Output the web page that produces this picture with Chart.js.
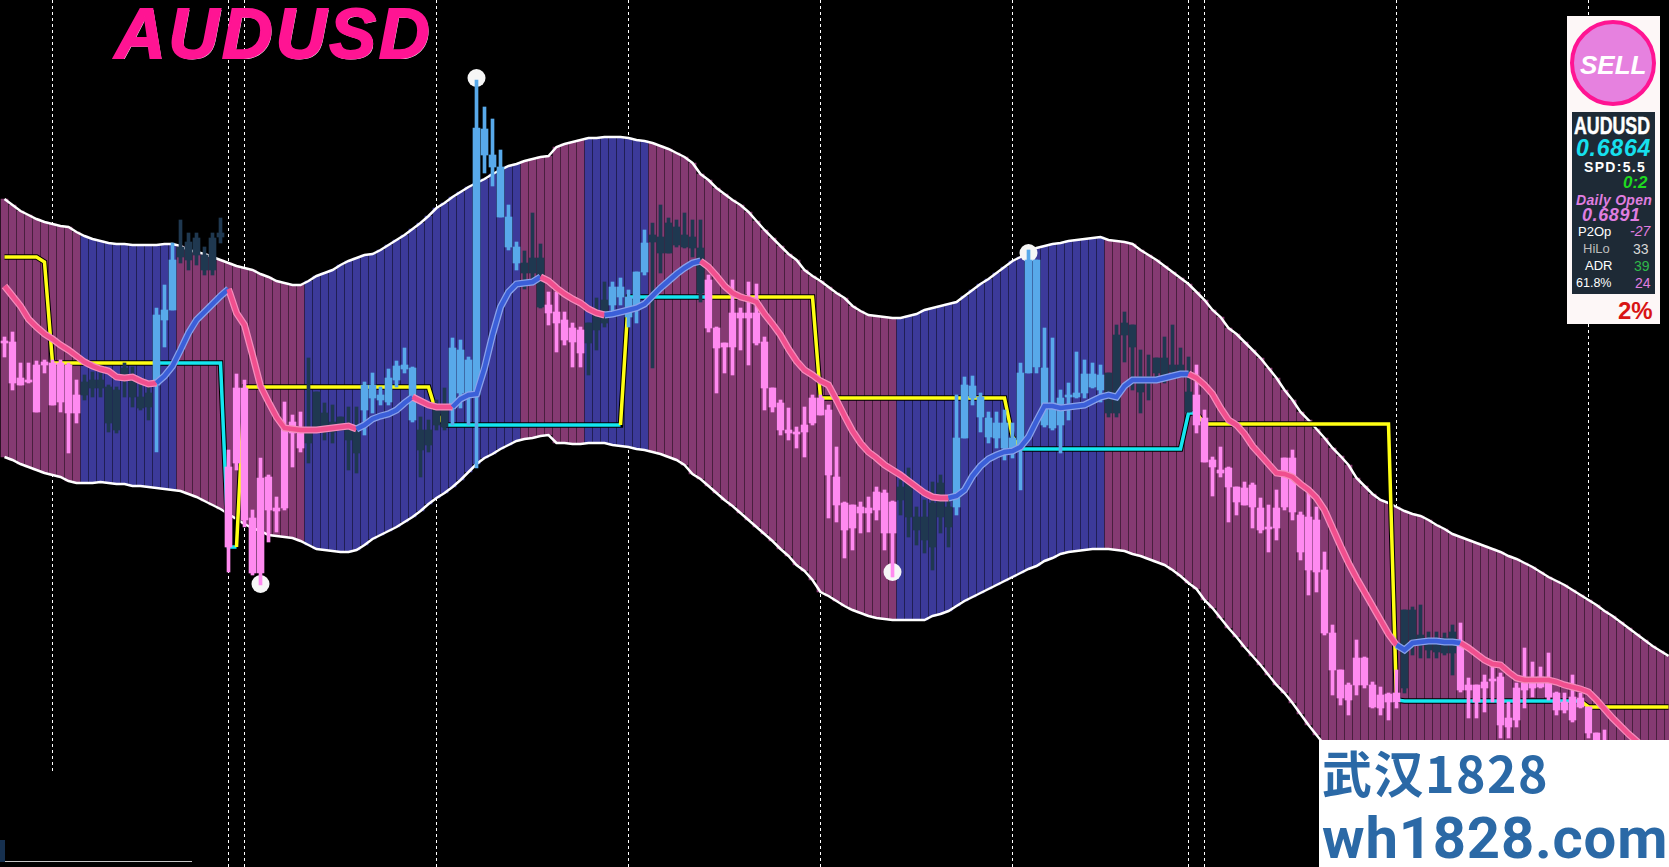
<!DOCTYPE html>
<html>
<head>
<meta charset="utf-8">
<title>AUDUSD</title>
<script src="https://cdn.jsdelivr.net/npm/chart.js@4"></script>
<style>
  html, body { margin: 0; background: #000; overflow: hidden; }
  #wrap { position: relative; width: 1669px; height: 867px; }
  canvas { position: absolute; left: 0; top: 0; }
  .t { position: absolute; white-space: nowrap; font-family: "Liberation Sans", sans-serif; line-height: 1; }
  .box { position: absolute; }
</style>
</head>
<body>
<div id="wrap">
  <canvas id="myChart" width="1669" height="867"></canvas>

  <div class="t" style="left:115px;top:-1px;font-size:70px;font-weight:bold;font-style:italic;color:#ff1493;letter-spacing:3px;-webkit-text-stroke:2px #ff1493;text-shadow:1px 1px 0 #fff;">AUDUSD</div>

  <div class="box" style="left:0;top:840px;width:5px;height:22px;background:#16304f;"></div>
  <div class="box" style="left:5px;top:861px;width:187px;height:1px;background:#c4c4c4;"></div>

  <div class="box" style="left:1567px;top:16px;width:93px;height:308px;background:#fdf7f7;"></div>
  <div class="box" style="left:1570px;top:20px;width:86px;height:86px;box-sizing:border-box;border-radius:50%;background:#e681df;border:4px solid #ff1493;"></div>
  <div class="t" style="left:1580px;top:52px;font-size:26px;font-weight:bold;font-style:italic;color:#fff;">SELL</div>
  <div class="box" style="left:1572px;top:112px;width:83px;height:182px;background:#1e2a36;"></div>
  <div class="t" style="left:1574px;top:114px;font-size:24px;font-weight:bold;color:#fff;-webkit-text-stroke:.5px #fff;transform:scaleX(.74);transform-origin:0 0;">AUDUSD</div>
  <div class="t" style="left:1576px;top:137px;font-size:23px;font-weight:bold;font-style:italic;color:#16e0ee;letter-spacing:.8px;">0.6864</div>
  <div class="t" style="left:1584px;top:160px;font-size:14px;font-weight:bold;color:#fff;letter-spacing:1.3px;">SPD:5.5</div>
  <div class="t" style="left:1623px;top:174px;font-size:17px;font-weight:bold;font-style:italic;color:#1fd91f;">0:2</div>
  <div class="t" style="left:1576px;top:193px;font-size:14px;font-weight:bold;font-style:italic;color:#e07ee0;letter-spacing:.3px;">Daily Open</div>
  <div class="t" style="left:1582px;top:206px;font-size:18px;font-weight:bold;font-style:italic;color:#e07ee0;letter-spacing:.6px;">0.6891</div>
  <div class="t" style="left:1578px;top:225px;font-size:13px;color:#fff;">P2Op</div>
  <div class="t" style="left:1630px;top:224px;font-size:14px;font-style:italic;color:#e07ee0;">-27</div>
  <div class="t" style="left:1583px;top:242px;font-size:13px;color:#bdbdbd;">HiLo</div>
  <div class="t" style="left:1633px;top:242px;font-size:14px;color:#d8d8d8;">33</div>
  <div class="t" style="left:1585px;top:259px;font-size:13px;color:#fff;">ADR</div>
  <div class="t" style="left:1634px;top:259px;font-size:14px;color:#2fb84a;">39</div>
  <div class="t" style="left:1576px;top:277px;font-size:12.5px;color:#fff;">61.8%</div>
  <div class="t" style="left:1635px;top:276px;font-size:14px;color:#e07ee0;">24</div>
  <div class="t" style="left:1618px;top:299px;font-size:24px;font-weight:bold;color:#d81414;">2%</div>

  <div class="box" style="left:1319px;top:740px;width:350px;height:127px;background:#fff;"></div>
  <div class="t" style="left:1322px;top:746px;font-size:50px;font-weight:bold;color:#2b69a6;font-family:'Noto Sans CJK SC',sans-serif;letter-spacing:1.5px;">武汉1828</div>
  <div class="t" style="left:1322px;top:809px;font-size:58px;font-weight:bold;color:#2b69a6;font-family:Roboto,sans-serif;letter-spacing:.8px;">wh1828.com</div>
</div>

<script>
// one column of the band per bar, 8px apart on the picture
const barCount = 209;

const upperBand = [
  199,205,211,215,219,222,224,226,227,232,
  236,239,241,243,244,244,245,245,245,245,
  244,244,246,250,252,254,257,260,263,266,
  268,270,274,277,281,283,285,285,281,276,
  273,270,265,261,258,255,254,250,245,240,
  235,229,223,216,208,203,197,192,187,183,
  179,174,170,166,164,161,159,157,156,147,
  144,142,140,138,138,137,137,137,138,140,
  141,143,146,149,153,157,163,174,180,188,
  194,200,205,212,221,230,238,246,254,260,
  270,276,281,287,293,298,306,311,315,316,
  317,318,318,316,314,310,308,306,304,302,
  296,290,284,279,273,267,261,257,252,248,
  246,244,243,241,240,239,238,237,240,241,
  242,244,250,255,260,266,272,278,284,292,
  300,310,317,328,334,342,350,358,368,378,
  390,400,412,420,429,438,448,456,465,478,
  486,494,500,503,507,511,514,516,520,525,
  529,534,537,540,543,546,549,552,556,559,
  563,567,572,577,581,585,590,595,600,605,
  611,616,622,628,634,640,646,651,656
];

const lowerBand = [
  457,460,464,467,470,473,475,477,481,483,
  483,483,482,483,484,484,486,486,487,488,
  489,490,491,494,497,501,505,509,514,519,
  524,528,531,535,536,537,538,541,545,549,
  550,551,552,552,550,545,539,535,531,527,
  522,517,511,504,498,493,487,480,472,464,
  458,454,449,445,441,439,438,436,435,443,
  443,444,444,443,443,443,445,446,447,449,
  450,452,454,457,460,465,474,479,486,493,
  500,506,513,520,527,534,541,549,556,565,
  571,580,592,596,601,606,610,613,616,618,
  619,620,620,620,620,620,616,614,611,606,
  601,597,593,589,585,581,577,573,569,566,
  561,558,554,552,551,550,549,549,549,550,
  551,554,556,559,562,565,570,576,583,589,
  600,608,618,628,637,647,656,665,675,685,
  693,703,714,725,735,745,755,765,775,785,
  795,805,815,825,835,845,855,865,867,867,
  867,867,867,867,867,867,867,867,867,867,
  867,867,867,867,867,867,867,867,867,867,
  867,867,867,867,867,867,867,867,867
];

// r = purple stretch, b = blue stretch, as [length, kind]
const bandRuns = [[10,'r'],[12,'b'],[16,'r'],[27,'b'],[8,'r'],[8,'b'],[31,'r'],[26,'b'],[71,'r']];

const candleHigh = [
  337,332,363,363,361,360,360,360,363,380,
  375,372,373,385,387,363,367,383,387,308,
  285,243,220,233,233,247,233,218,450,374,
  380,510,458,475,497,402,415,412,358,392,
  403,405,417,407,407,382,373,387,369,361,
  348,367,417,420,400,388,338,340,357,80,
  107,119,150,205,242,251,213,244,292,292,
  312,323,327,323,298,282,282,278,290,272,
  230,223,205,218,220,213,220,220,275,327,
  343,280,308,282,284,337,388,400,408,427,
  407,395,395,405,447,502,505,502,497,487,
  490,501,480,468,507,500,482,475,500,395,
  377,376,393,412,412,410,423,363,250,260,
  328,338,390,383,352,360,363,365,373,325,
  312,325,350,355,358,337,325,348,357,365,
  410,457,447,467,487,482,483,498,505,490,
  458,450,512,493,507,552,625,670,683,640,
  657,682,687,693,670,610,607,605,632,632,
  633,625,623,678,685,675,665,673,702,683,
  648,662,667,653,692,693,675,693,707,733,
  730
];

const candleLow = [
  357,390,385,383,412,373,405,412,453,423,
  400,397,397,432,433,397,407,410,420,452,
  347,310,263,270,265,275,275,243,572,470,
  527,575,585,542,532,510,467,452,463,430,
  440,443,430,470,473,435,413,405,405,387,
  373,422,477,452,430,430,425,408,425,468,
  173,186,217,250,270,289,283,308,325,352,
  345,367,367,375,350,327,312,305,327,323,
  275,368,273,253,247,248,257,302,332,393,
  373,375,350,365,345,410,412,435,440,448,
  457,425,415,518,522,558,550,533,532,520,
  550,577,515,537,545,553,570,533,547,515,
  438,405,432,443,448,460,458,490,373,373,
  427,430,453,420,398,398,388,402,417,417,
  362,390,413,400,377,383,375,373,412,433,
  462,496,477,522,515,505,528,533,552,540,
  510,520,560,595,592,635,695,705,715,695,
  688,708,715,720,708,693,655,658,658,658,
  655,675,692,718,718,712,702,738,738,727,
  708,697,688,700,715,713,722,708,738,750,
  750
];

const bodyTop = [
  341,342,378,380,365,362,363,363,365,395,
  382,380,380,387,390,368,377,397,393,315,
  310,260,247,242,238,255,238,233,467,388,
  388,518,478,477,508,428,422,432,430,392,
  413,422,417,425,428,385,385,395,378,366,
  365,368,430,430,410,407,348,350,360,128,
  129,155,167,217,247,263,258,258,305,312,
  320,328,330,323,313,300,287,287,297,272,
  243,235,237,223,227,235,237,248,280,328,
  343,313,313,313,313,342,388,403,430,432,
  425,398,398,410,477,503,505,507,508,492,
  493,502,487,483,517,517,503,483,507,438,
  385,386,397,418,423,423,438,373,260,260,
  368,403,398,395,393,374,374,375,373,335,
  323,325,377,377,358,358,365,365,392,395,
  418,460,470,468,487,488,485,508,527,508,
  458,458,515,517,520,570,633,670,685,658,
  658,685,695,694,693,610,610,635,643,643,
  638,632,642,685,685,682,679,677,718,688,
  683,683,677,680,693,702,697,698,707,733,
  745
];

const bodyBottom = [
  343,383,385,382,412,365,405,402,413,413,
  395,388,388,423,430,375,397,408,407,385,
  320,310,257,260,255,270,270,237,547,463,
  520,573,573,510,511,508,433,448,443,428,
  432,432,430,440,453,410,398,400,402,380,
  369,420,450,445,425,427,407,393,393,395,
  155,167,217,247,263,273,273,307,313,323,
  340,342,353,343,330,323,305,297,317,310,
  272,242,253,253,245,247,248,293,328,348,
  347,347,318,318,343,388,407,430,433,434,
  432,423,415,475,505,530,528,513,513,510,
  533,533,500,517,530,540,547,517,527,507,
  438,398,417,437,438,448,450,448,373,367,
  425,428,425,397,397,393,387,390,413,413,
  335,347,392,383,373,375,372,372,412,425,
  462,467,473,487,502,505,507,530,529,528,
  507,512,552,570,572,633,670,698,700,685,
  685,707,708,702,702,688,640,645,650,652,
  653,653,690,690,702,688,681,725,727,720,
  690,688,687,697,710,710,720,707,733,750,
  750
];

// p = pink, b = light blue, d = dark
const candleRuns = [[10,'p'],[9,'d'],[3,'b'],[6,'d'],[10,'p'],[7,'d'],[7,'b'],[4,'d'],[9,'b'],[3,'d'],[5,'p'],[3,'d'],[5,'b'],[7,'d'],[24,'p'],[7,'d'],[19,'b'],[11,'d'],[26,'p'],[7,'d'],[19,'p']];

const maLine = [
  286,296,306,319,327,334,339,345,350,356,
  362,366,369,371,377,378,377,381,384,383,
  376,366,350,333,320,312,304,296,289,313,
  325,355,386,402,417,428,429,430,430,430,
  429,428,427,426,429,425,419,416,414,410,
  403,397,401,405,407,407,407,399,395,394,
  368,335,307,292,284,283,282,277,281,288,
  294,299,303,309,313,315,314,312,310,308,
  304,296,288,281,274,268,263,261,267,276,
  286,293,297,299,302,314,324,335,349,361,
  370,375,381,385,400,416,431,443,452,458,
  465,470,475,481,487,493,497,498,498,496,
  490,476,466,459,455,452,451,447,437,421,
  406,406,408,407,406,405,401,397,395,397,
  386,380,380,380,380,378,376,374,374,378,
  385,394,408,420,425,434,446,455,464,473,
  474,477,484,490,498,510,528,546,563,578,
  592,606,620,634,645,650,643,642,641,641,
  642,642,643,648,654,660,664,665,672,678,
  680,680,680,680,682,685,687,689,692,700,
  709,718,726,734,741,748,755,762,769
];

const maRuns = [[19,'p'],[9,'b'],[16,'p'],[7,'b'],[5,'p'],[11,'b'],[8,'p'],[12,'b'],[31,'p'],[30,'b'],[26,'p'],[8,'b'],[27,'p']];

const stepLine = [
  257,257,257,257,257,262,363,363,363,363,
  363,363,363,363,363,363,363,363,363,363,
  363,363,363,363,363,363,363,363,547,547,
  387,387,387,387,387,387,387,387,387,387,
  387,387,387,387,387,387,387,387,387,387,
  387,387,387,387,413,425,425,425,425,425,
  425,425,425,425,425,425,425,425,425,425,
  425,425,425,425,425,425,425,425,297,297,
  297,297,297,297,297,297,297,297,297,297,
  297,297,297,297,297,297,297,297,297,297,
  297,297,398,398,398,398,398,398,398,398,
  398,398,398,398,398,398,398,398,398,398,
  398,398,398,398,398,398,437,449,449,449,
  449,449,449,449,449,449,449,449,449,449,
  449,449,449,449,449,449,449,449,413,413,
  424,424,424,424,424,424,424,424,424,424,
  424,424,424,424,424,424,424,424,424,424,
  424,424,424,424,700,701,701,701,701,701,
  701,701,701,701,701,701,701,701,701,701,
  701,701,701,701,701,701,701,701,707,707,
  707,707,707,707,707,707,707,707,707
];

// y = yellow, c = cyan
const stepRuns = [[19,'y'],[10,'c'],[26,'y'],[22,'c'],[1,'y'],[10,'c'],[39,'y'],[22,'c'],[25,'y'],[23,'c'],[12,'y']];

const markerBars = [32, 59, 111, 128];
const markerLevels = [584, 78, 572, 253];

const sessionBars = [6, 28, 30, 54, 78, 102, 126, 148, 150, 174, 198];

const expandRuns = (runs) => runs.flatMap(([n, kind]) => Array(n).fill(kind));
const toPoints = (values) => values.map((y, x) => ({ x, y }));

const bandKinds = expandRuns(bandRuns);
const candleKinds = expandRuns(candleRuns);
const maKinds = expandRuns(maRuns);
const stepKinds = expandRuns(stepRuns);

const candleColors = { p: '#ff8af0', b: '#58a9ea', d: '#1f3850' };
const stepColors = { y: '#ffff14', c: '#14e6f0' };
const maEdge = { p: '#f58cbc', b: '#8aa2ea' };
const maCore = { p: '#f04f8e', b: '#3b5fd8' };

const sessionLines = {
  id: 'sessionLines',
  beforeDatasetsDraw(chart) {
    const { ctx, scales } = chart;
    ctx.save();
    ctx.strokeStyle = '#fff';
    ctx.lineWidth = 1;
    ctx.setLineDash([3, 3]);
    sessionBars.forEach((bar) => {
      const px = Math.floor(scales.x.getPixelForValue(bar)) + 0.5;
      ctx.beginPath();
      ctx.moveTo(px, 0);
      ctx.lineTo(px, bar === 6 ? 772 : 867);
      ctx.stroke();
    });
    ctx.restore();
  },
};

const thinLine = (values, color, width, order) => ({
  type: 'line',
  data: toPoints(values),
  borderColor: color,
  borderWidth: width,
  pointRadius: 0,
  tension: 0,
  order,
});

new Chart(document.getElementById('myChart'), {
  data: {
    datasets: [
      {
        type: 'bar',
        data: upperBand.map((top, x) => ({ x, y: [top, lowerBand[x]] })),
        backgroundColor: bandKinds.map((k) => (k === 'r' ? '#853a72' : '#3c3a9a')),
        grouped: false,
        barPercentage: 1,
        categoryPercentage: 1,
        maxBarThickness: 7,
        order: 10,
      },
      thinLine(upperBand, '#ffffff', 2.5, 9),
      thinLine(lowerBand, '#ffffff', 2.5, 9),
      thinLine(stepLine, '#000000', 5.5, 8),
      {
        ...thinLine(stepLine, '#ffff14', 3.5, 7),
        segment: { borderColor: (c) => stepColors[stepKinds[c.p0DataIndex]] },
      },
      {
        type: 'line',
        data: markerBars.map((x, i) => ({ x, y: markerLevels[i] })),
        showLine: false,
        pointRadius: 9,
        pointBackgroundColor: '#f6f6f6',
        pointBorderWidth: 0,
        order: 6,
      },
      {
        type: 'bar',
        data: candleHigh.map((h, x) => ({ x, y: [h, candleLow[x]] })),
        backgroundColor: candleKinds.map((k) => candleColors[k]),
        grouped: false,
        barPercentage: 1,
        categoryPercentage: 1,
        maxBarThickness: 3,
        order: 5,
      },
      {
        type: 'bar',
        data: bodyTop.map((t, x) => ({ x, y: [t, bodyBottom[x]] })),
        backgroundColor: candleKinds.map((k) => candleColors[k]),
        grouped: false,
        barPercentage: 1,
        categoryPercentage: 1,
        maxBarThickness: 7,
        order: 4,
      },
      {
        ...thinLine(maLine, '#f58cbc', 7, 2),
        segment: { borderColor: (c) => maEdge[maKinds[c.p0DataIndex]] },
      },
      {
        ...thinLine(maLine, '#f04f8e', 4.5, 1),
        segment: { borderColor: (c) => maCore[maKinds[c.p0DataIndex]] },
      },
    ],
  },
  options: {
    responsive: false,
    animation: false,
    events: [],
    layout: { padding: 0, autoPadding: false },
    plugins: { legend: { display: false }, tooltip: { enabled: false } },
    scales: {
      // half-pixel shift so the 7px columns land on whole pixels
      x: { type: 'linear', min: -0.5625, max: barCount - 0.9375, offset: false, display: false },
      y: { type: 'linear', min: 0, max: 867, reverse: true, display: false },
    },
  },
  plugins: [sessionLines],
});
</script>
</body>
</html>
